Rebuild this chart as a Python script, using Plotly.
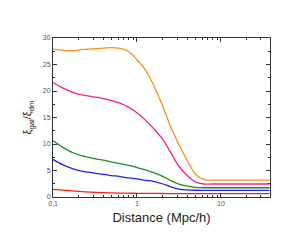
import plotly.graph_objects as go

distance = [0.1, 0.13, 0.17, 0.22, 0.3, 0.4, 0.5, 0.63, 0.8, 1.0, 1.26, 1.58, 2.0, 2.5,
            3.16, 4.0, 5.0, 6.3, 8.0, 10.0, 15.0, 20.0, 30.0, 38.0]

orange = [27.9, 27.65, 27.6, 27.8, 27.95, 28.1, 28.2, 28.05, 27.4, 25.9, 24.0, 21.1, 17.4, 13.4,
          9.9, 6.8, 4.3, 3.3, 3.2, 3.2, 3.2, 3.2, 3.2, 3.2]
pink = [21.6, 20.6, 19.8, 19.25, 18.9, 18.55, 18.2, 17.7, 16.9, 15.9, 14.5, 12.9, 11.0, 8.5,
        5.8, 4.0, 2.8, 2.45, 2.45, 2.45, 2.45, 2.45, 2.45, 2.45]
green = [10.6, 9.4, 8.4, 7.8, 7.3, 6.95, 6.6, 6.3, 5.95, 5.55, 5.1, 4.6, 3.95, 3.15,
         2.45, 2.05, 1.8, 1.75, 1.75, 1.75, 1.75, 1.75, 1.75, 1.75]
blue = [7.1, 6.1, 5.35, 4.9, 4.55, 4.25, 4.05, 3.85, 3.6, 3.4, 3.15, 2.95, 2.5, 1.95,
        1.5, 1.33, 1.27, 1.25, 1.25, 1.25, 1.25, 1.25, 1.25, 1.25]
red = [1.45, 1.3, 1.15, 1.0, 0.9, 0.82, 0.78, 0.75, 0.72, 0.7, 0.68, 0.67, 0.66, 0.65,
       0.65, 0.65, 0.65, 0.65, 0.65, 0.65, 0.65, 0.65, 0.65, 0.65]

series = [
    (orange, "#FF8C1A"),
    (pink, "#FF1A8C"),
    (green, "#1E8C1E"),
    (blue, "#1E1EFF"),
    (red, "#FF1E1E"),
]

x_tickvals = [0.1, 1, 10]
x_ticktext = ["0,1", "1", "10"]
x_minor = [0.2, 0.3, 0.4, 0.5, 0.6, 0.7, 0.8, 0.9, 2, 3, 4, 5, 6, 7, 8, 9, 20, 30]
y_tickvals = [0, 5, 10, 15, 20, 25, 30]
y_minor = [2.5, 7.5, 12.5, 17.5, 22.5, 27.5]

fig = go.Figure()
for vals, color in series:
    fig.add_trace(go.Scatter(x=distance, y=vals, mode="lines",
                             line=dict(color=color, width=1.3, shape="spline", smoothing=1.0),
                             showlegend=False, hoverinfo="skip"))

axis_common = dict(
    showline=True, linecolor="#333333", linewidth=1, mirror="allticks",
    ticks="inside", ticklen=4, tickwidth=1, tickcolor="#333333",
    showgrid=False, zeroline=False,
    tickfont=dict(family="Liberation Sans, Arial, sans-serif", size=7, color="#555555"),
)

fig.update_xaxes(
    type="log", range=[-1, 1.585],
    tickmode="array", tickvals=x_tickvals, ticktext=x_ticktext,
    minor=dict(tickmode="array", tickvals=x_minor, ticks="inside", ticklen=2,
               tickcolor="#333333", showgrid=False),
    title=dict(text="Distance (Mpc/h)", standoff=6,
               font=dict(family="Liberation Sans, Arial, sans-serif", size=13, color="#222222")),
    **axis_common,
)
fig.update_yaxes(
    range=[0, 30],
    tickmode="array", tickvals=y_tickvals,
    minor=dict(tickmode="array", tickvals=y_minor, ticks="inside", ticklen=2,
               tickcolor="#333333", showgrid=False),
    title=dict(text="ξ<sub>gal</sub>/ξ<sub>dm</sub>", standoff=8,
               font=dict(family="Liberation Sans, Arial, sans-serif", size=11, color="#222222")),
    **axis_common,
)

# the page body has a default 8px margin, so the figure is shifted by 8px
fig.update_layout(
    width=298, height=234,
    margin=dict(l=45, r=36, t=30, b=45),
    paper_bgcolor="white", plot_bgcolor="white",
)

fig.write_html("out.html")
